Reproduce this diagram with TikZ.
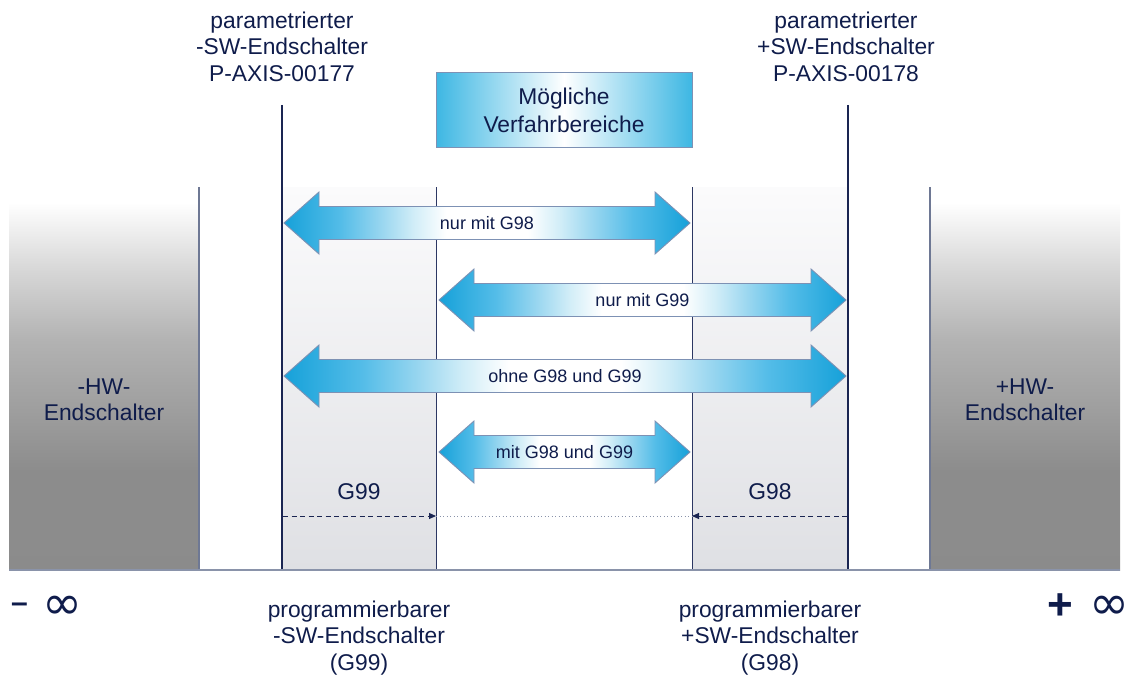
\documentclass[tikz,border=0pt]{standalone}
\usepackage{fontspec}
\setmainfont{Liberation Sans}
\newfontfamily\symfont{DejaVu Sans}
\usetikzlibrary{arrows.meta}

\definecolor{navy}{HTML}{0F1C4B}
\definecolor{linenavy}{HTML}{1A2552}
\definecolor{thinline}{HTML}{2C3763}
\definecolor{edgegray}{HTML}{6E7894}
\definecolor{basegray}{HTML}{8A93AA}
\definecolor{cyanedge}{HTML}{16A1D9}
\definecolor{boxcyan}{HTML}{3DB7E3}
\definecolor{arrowrim}{HTML}{7D91B4}
\definecolor{bandtop}{HTML}{FBFBFC}
\definecolor{bandbot}{HTML}{DFE0E4}

% grey fill of the hardware limit switch blocks, white at the top
\pgfdeclareverticalshading{hwshade}{100bp}{%
  rgb(0bp)=(0.54,0.54,0.54); rgb(38bp)=(0.55,0.55,0.55);
  rgb(47bp)=(0.63,0.63,0.63); rgb(55bp)=(0.70,0.70,0.70);
  rgb(64bp)=(0.84,0.84,0.84); rgb(73bp)=(1,1,1); rgb(100bp)=(1,1,1)}

% cyan ends fading to a white middle part
\pgfdeclarehorizontalshading{arrowshade}{100bp}{%
  color(0bp)=(cyanedge); color(25bp)=(cyanedge);
  rgb(32bp)=(0.33,0.74,0.91); rgb(37bp)=(0.60,0.84,0.94);
  rgb(41bp)=(0.82,0.93,0.97); rgb(45bp)=(1,1,1); rgb(55bp)=(1,1,1);
  rgb(59bp)=(0.82,0.93,0.97); rgb(63bp)=(0.60,0.84,0.94);
  rgb(68bp)=(0.33,0.74,0.91); color(75bp)=(cyanedge); color(100bp)=(cyanedge)}

\tikzset{
  lbl/.style={text=navy, font=\fontsize{22.8}{26.5}\selectfont, align=center, inner sep=0pt},
  arrowlabel/.style={text=navy, font=\fontsize{18}{21}\selectfont, inner sep=0pt},
  blockarrow/.style={shading=arrowshade, draw=arrowrim, line width=0.9pt},
  thick limit/.style={draw=linenavy, line width=2.4pt},
  thin limit/.style={draw=thinline, line width=1pt},
  hwedge/.style={draw=edgegray, line width=1.3pt},
  dasharrow/.style={draw=linenavy, line width=1pt, dash pattern=on 5pt off 3.5pt,
    -{Triangle[length=7pt,width=6pt]}},
  infinity/.style={text=navy, font=\symfont\fontsize{48}{50}\selectfont, inner sep=0pt},
}

% double block arrow from x=#2 to x=#3 at height #4, labelled #5
\newcommand\rangearrow[5]{%
  \shade[blockarrow] (#2,#4) -- (#2+35,#4-31) -- (#2+35,#4-16.5) -- (#3-35,#4-16.5)
    -- (#3-35,#4-31) -- (#3,#4) -- (#3-35,#4+31) -- (#3-35,#4+16.5)
    -- (#2+35,#4+16.5) -- (#2+35,#4+31) -- cycle;
  \node[arrowlabel] (#1) at ({(#2+#3)/2},#4) {#5};}

\begin{document}
\begin{tikzpicture}[x=1pt,y=-1pt]
\useasboundingbox (0,0) rectangle (1139,682);

% hardware limit switch blocks
\shade[shading=hwshade] (9,187) rectangle (199,570);
\shade[shading=hwshade] (930,187) rectangle (1120,570);
\node[lbl] (hwminus) at (104,400) {-HW-\\Endschalter};
\node[lbl] (hwplus) at (1025,400) {+HW-\\Endschalter};

% light bands between parametrised and programmed limits
\shade[top color=bandtop, bottom color=bandbot] (282,187) rectangle (436,570);
\shade[top color=bandtop, bottom color=bandbot] (692,187) rectangle (848,570);

% limit lines
\coordinate (hwl) at (199,187);
\coordinate (hwlb) at (199,570);
\coordinate (hwr) at (930,187);
\coordinate (hwrb) at (930,570);
\draw[hwedge] (hwl) -- (hwlb);
\draw[hwedge] (hwr) -- (hwrb);

\coordinate (pl) at (282,105);
\coordinate (plb) at (282,570);
\coordinate (pr) at (848,105);
\coordinate (prb) at (848,570);
\draw[thick limit] (pl) -- (plb);
\draw[thick limit] (pr) -- (prb);

\coordinate (gl) at (436,187);
\coordinate (glb) at (436,570);
\coordinate (gr) at (692,187);
\coordinate (grb) at (692,570);
\draw[thin limit] (gl) -- (glb);
\draw[thin limit] (gr) -- (grb);

% axis base line
\coordinate (axl) at (9,570);
\coordinate (axr) at (1120,570);
\draw[draw=basegray, line width=1.5pt] (axl) -- (axr);

% header box
\node[left color=boxcyan, right color=boxcyan, middle color=white, draw=arrowrim,
  line width=0.8pt, minimum width=256pt, minimum height=75pt, lbl,
  font=\fontsize{22.8}{28}\selectfont] (range) at (564,110) {Mögliche\\Verfahrbereiche};

% parametrised limit labels
\node[lbl] (swminus) at (282,46.5) {parametrierter\\-SW-Endschalter\\P-AXIS-00177};
\node[lbl] (swplus) at (846,46.5) {parametrierter\\+SW-Endschalter\\P-AXIS-00178};

% travel ranges
\rangearrow{g98}{284}{690}{223}{nur mit G98}
\rangearrow{g99}{439}{846}{300}{nur mit G99}
\rangearrow{none}{284}{846}{376}{ohne G98 und G99}
\rangearrow{both}{439}{690}{452}{mit G98 und G99}

% shift of the programmed limits
\node[lbl] (lg99) at (359,492) {G99};
\node[lbl] (lg98) at (770,492) {G98};
\coordinate (dl0) at (283,516);
\coordinate (dl1) at (436,516);
\coordinate (dr0) at (847,516);
\coordinate (dr1) at (692,516);
\draw[dasharrow] (dl0) -- (dl1);
\draw[dasharrow] (dr0) -- (dr1);
\draw[draw=basegray, line width=0.9pt, dash pattern=on 1pt off 2.5pt] (dl1) -- (dr1);

% programmed limit labels
\node[lbl] (progminus) at (359,638) {programmierbarer\\-SW-Endschalter\\(G99)};
\node[lbl] (progplus) at (770,638) {programmierbarer\\+SW-Endschalter\\(G98)};

% axis ends
\node[text=navy, font=\bfseries\fontsize{30}{32}\selectfont, inner sep=0pt] (minus) at (19.5,608) {–};
\node[infinity] (infl) at (62,608) {∞};
\node[text=navy, font=\bfseries\fontsize{44}{46}\selectfont, inner sep=0pt] (plus) at (1060,607) {+};
\node[infinity] (infr) at (1109,608) {∞};
\end{tikzpicture}
\end{document}
